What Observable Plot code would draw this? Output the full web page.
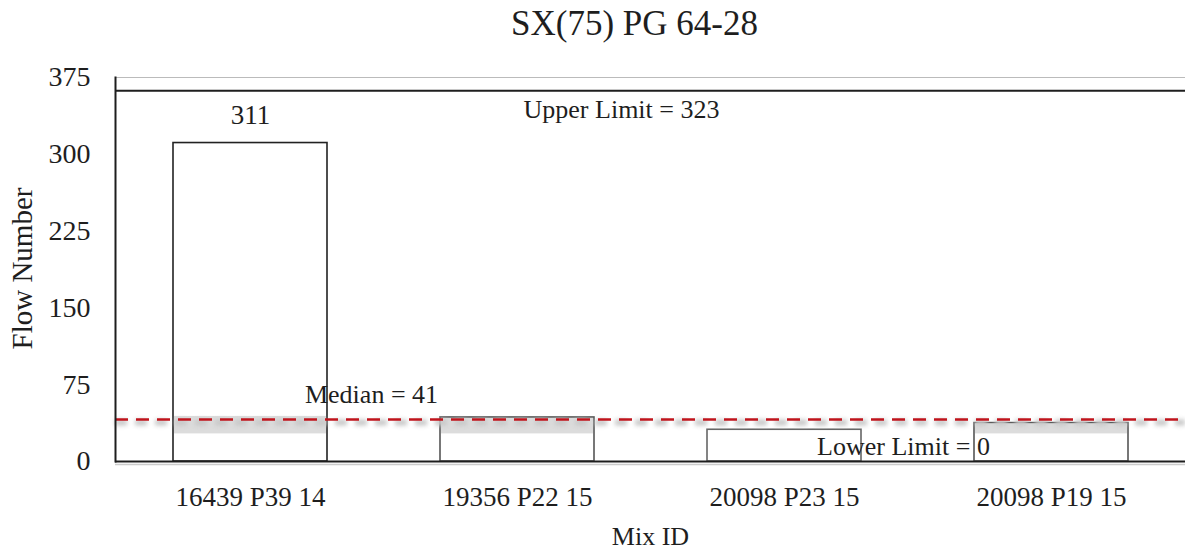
<!DOCTYPE html>
<html><head><meta charset="utf-8">
<script src="https://cdn.jsdelivr.net/npm/d3@7"></script>
<script src="https://cdn.jsdelivr.net/npm/@observablehq/plot@0.6"></script>
<style>body{margin:0;background:#fff;font-family:"Liberation Serif",serif}</style>
</head><body><div id="chart"></div>
<script>
const categories = ["16439 P39 14", "19356 P22 15", "20098 P23 15", "20098 P19 15"];
const values = [311, 43, 31, 37.5];
const barStroke = ["#222", "#555", "#666", "#555"];
const bandLow = [26, 26, 26, 26];
const bandHigh = [45, 43, 26, 37.5];
const yTicks = [0, 75, 150, 225, 300, 375];
const median = 41;
const upperLimit = 323;
const lowerLimit = 0;
const upperBoxTop = 362;

const data = categories.map((c, i) => ({cat: c, v: values[i], s: barStroke[i], lo: bandLow[i], hi: bandHigh[i]}));
const font = "Liberation Serif";
const ink = "#1e1e1e";

const chart = Plot.plot({
  width: 1185, height: 550,
  marginTop: 77, marginBottom: 89, marginLeft: 115, marginRight: 0,
  style: {fontFamily: font, background: "#fff", color: ink},
  x: {domain: categories, paddingInner: 0.424, paddingOuter: 0.212, axis: null},
  y: {domain: [0, 375], axis: null},
  marks: [
    Plot.ruleY([375], {stroke: "#bbb", strokeWidth: 1}),
    Plot.ruleY([upperBoxTop], {stroke: ink, strokeWidth: 2}),
    Plot.barY(data, {x: "cat", y: "v", fill: "#fff", stroke: "s", strokeWidth: 1.6}),
    Plot.barY(data.filter(d => d.hi > d.lo), {x: "cat", y1: "lo", y2: "hi", fill: "#d6d6d6", fillOpacity: 0.85, inset: 1}),
    Plot.ruleY([median], {stroke: "#c8c8c8", strokeWidth: 6, strokeDasharray: "12,8", dy: 3, imageFilter: "blur(2px)"}),
    Plot.ruleY([median], {stroke: "#c0141c", strokeWidth: 2.5, strokeDasharray: "13,8"}),
    Plot.ruleY([0], {stroke: "#ccc", strokeWidth: 1.5, dy: 3}),
    Plot.ruleY([0], {stroke: ink, strokeWidth: 2}),
    Plot.frame({anchor: "left", stroke: ink, strokeWidth: 2}),
    // y tick labels
    Plot.text(yTicks, {y: d => d, text: d => String(d), frameAnchor: "left", dx: -25, textAnchor: "end", lineAnchor: "middle", fontSize: 28, fill: ink}),
    // x tick labels
    Plot.text(categories, {x: d => d, y: 0, text: d => d, dy: 36, fontSize: 27, fill: ink}),
    // value label
    Plot.text([data[0]], {x: "cat", y: "v", text: d => String(d.v), dy: -28, fontSize: 27, fill: ink}),
    // annotations
    Plot.text([`Upper Limit = ${upperLimit}`], {frameAnchor: "top", lineAnchor: "middle", dx: -29, dy: 32, fontSize: 26, fill: ink}),
    Plot.text([`Median = ${median}`], {x: () => categories[0], y: () => median, text: d => d, dx: 121, dy: -25, fontSize: 26, fill: ink}),
    Plot.text([`Lower Limit = ${lowerLimit}`], {x: () => categories[2], y: () => lowerLimit, text: d => d, dx: 119, dy: -15, fontSize: 26, fill: ink}),
    // axis titles
    Plot.text(["Mix ID"], {frameAnchor: "bottom", lineAnchor: "middle", dy: 75, fontSize: 26, fill: ink}),
    Plot.text(["Flow Number"], {frameAnchor: "left", textAnchor: "middle", lineAnchor: "middle", dx: -93, dy: -1, rotate: -90, fontSize: 29, fill: ink}),
    Plot.text(["SX(75) PG 64-28"], {frameAnchor: "top", lineAnchor: "middle", dx: -16, dy: -54, fontSize: 35, fill: ink})
  ]
});
document.getElementById("chart").appendChild(chart);
</script></body></html>
